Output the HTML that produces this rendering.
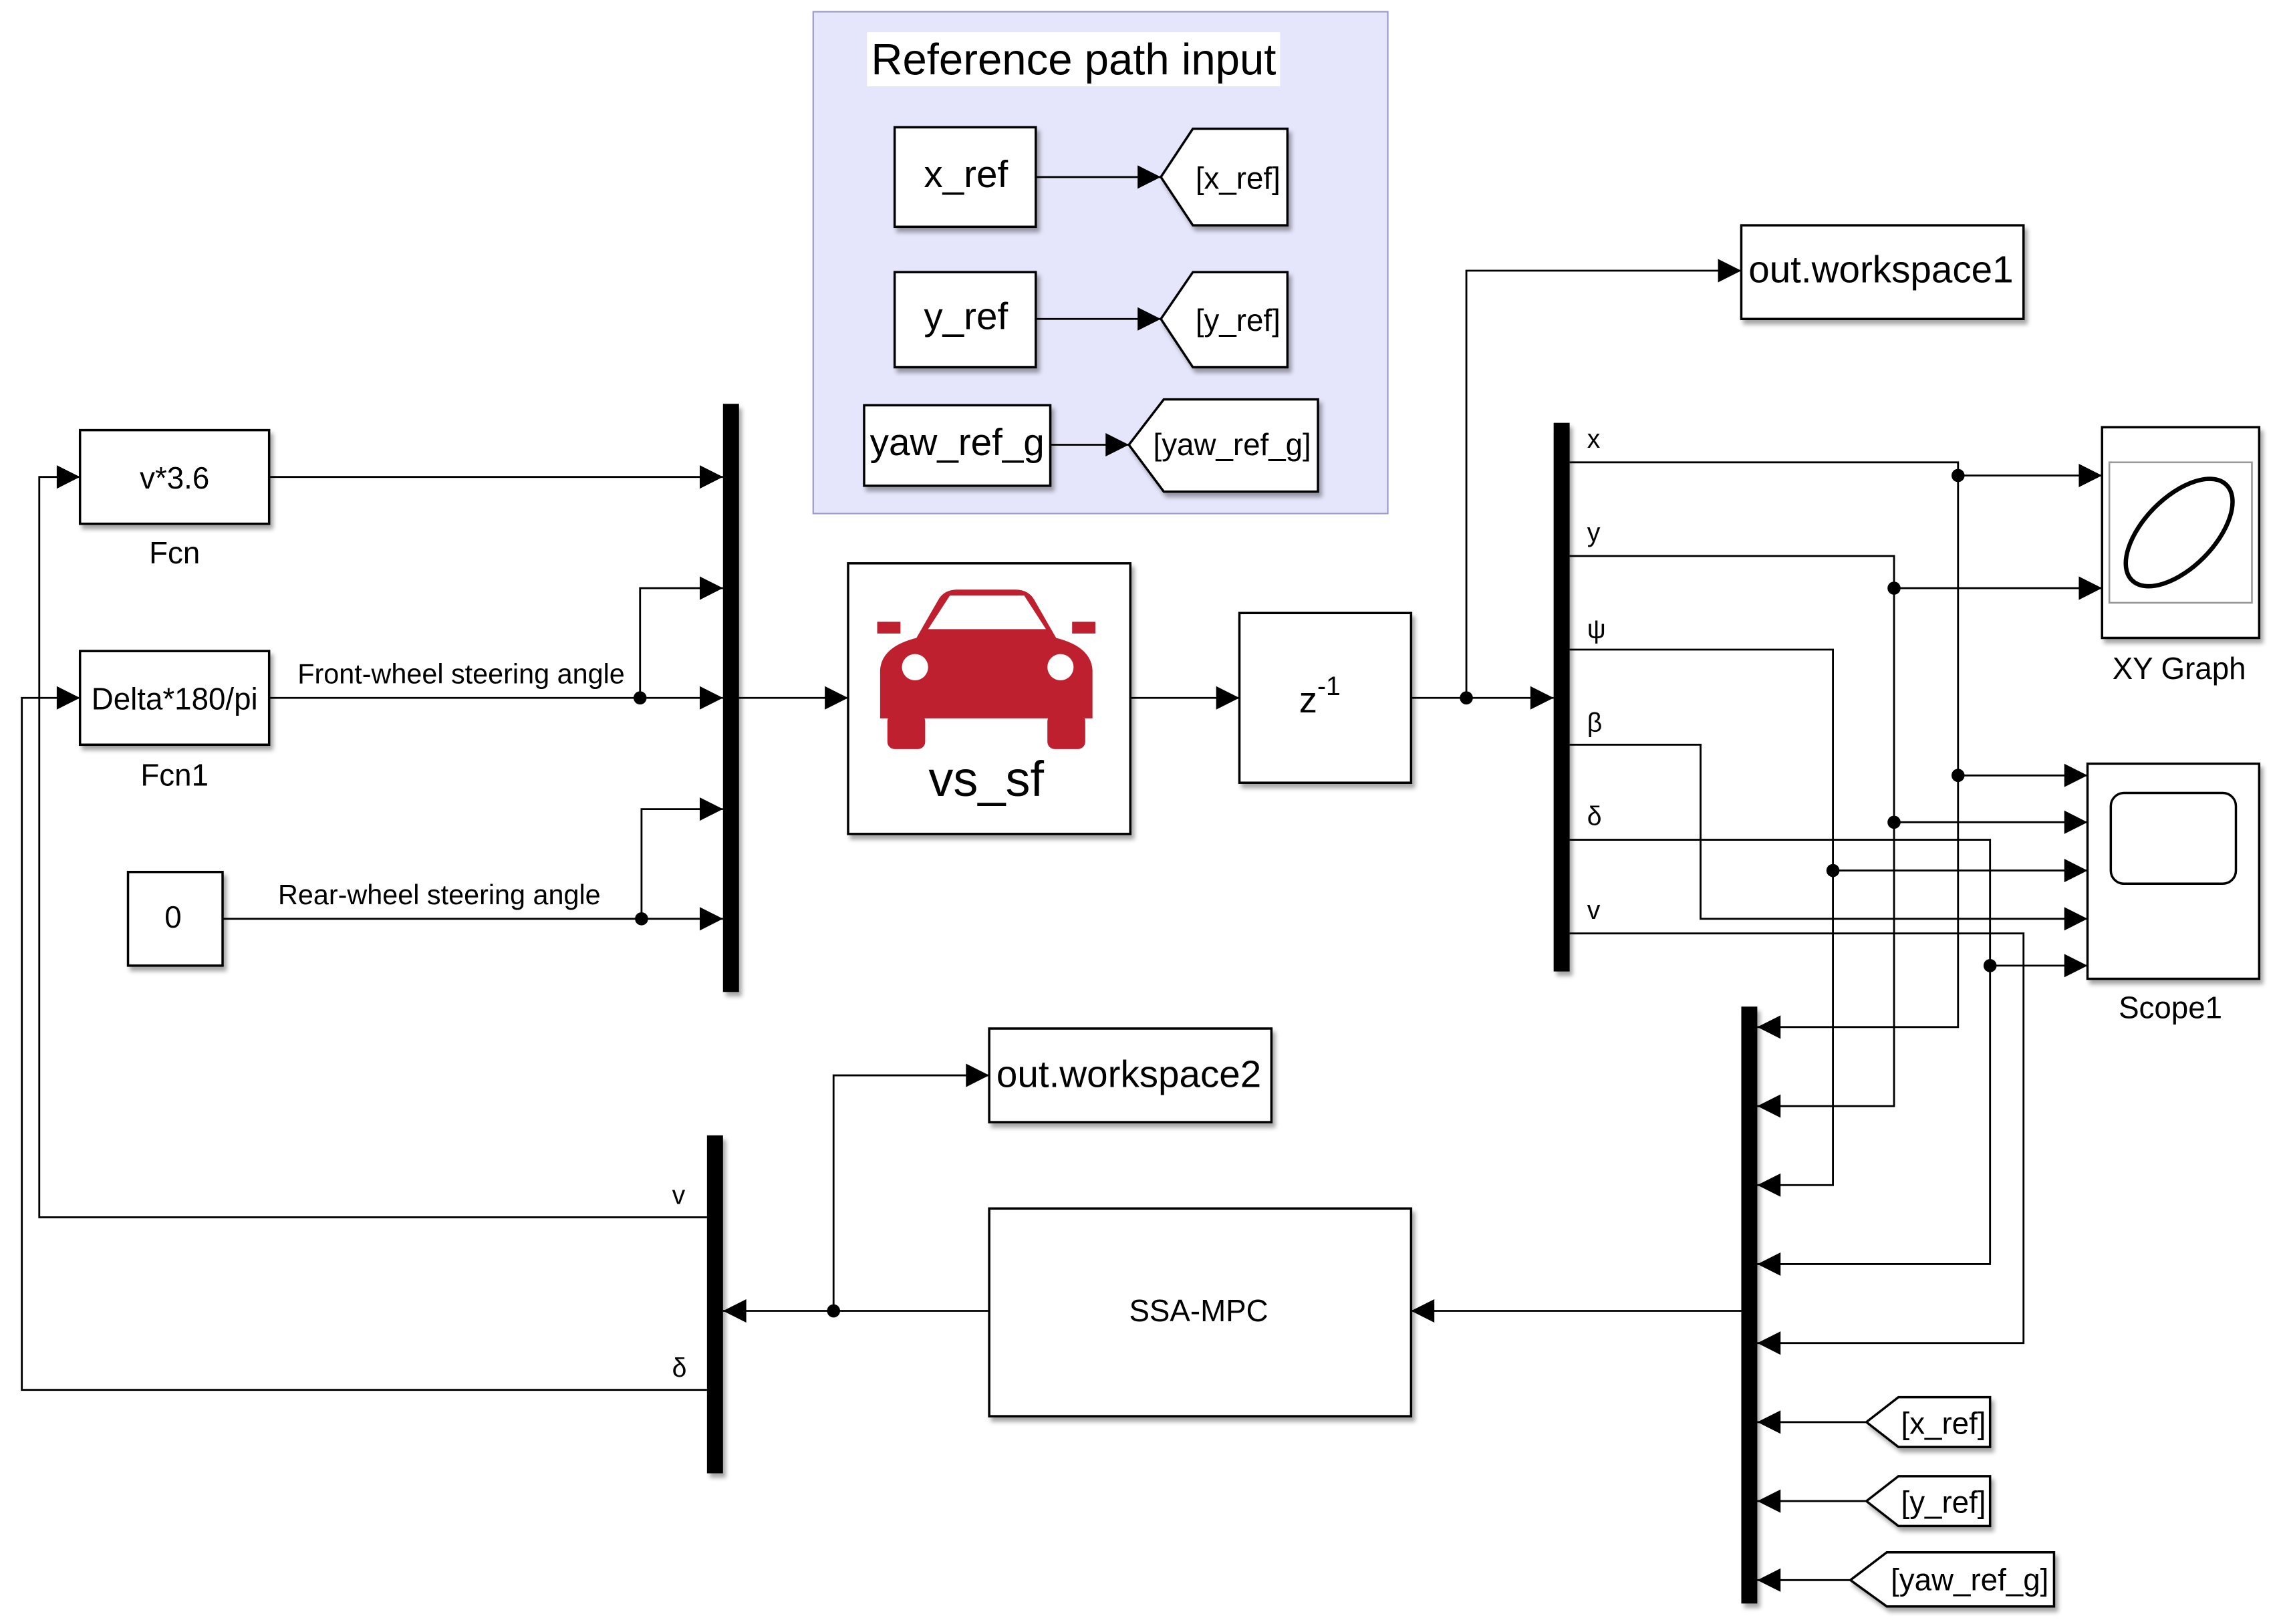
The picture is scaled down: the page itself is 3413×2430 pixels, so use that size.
<!DOCTYPE html>
<html><head><meta charset="utf-8"><style>
html,body{margin:0;padding:0;background:#fff;}
svg{display:block;}
text{font-family:"Liberation Sans",sans-serif;fill:#000;}
</style></head><body>
<svg width="3413" height="2430" viewBox="0 0 1568 1110" preserveAspectRatio="none" xmlns="http://www.w3.org/2000/svg">
<defs>
<filter id="sh" x="-10%" y="-10%" width="130%" height="130%"><feDropShadow dx="2" dy="3" stdDeviation="1.5" flood-color="#000" flood-opacity="0.35"/></filter>
</defs>
<rect width="1568" height="1110" fill="#fff"/>
<g transform="translate(0,-2)">
<rect x="559" y="10" width="395" height="343" fill="#e5e5fb" stroke="#9a9ac4" stroke-width="1"/>
<rect x="596" y="24" width="284" height="37" fill="#fff"/>
<text x="738" y="53" font-size="30" text-anchor="middle">Reference path input</text>
<g fill="#fff" stroke="#000" stroke-width="1.6" filter="url(#sh)">
<rect x="615" y="89" width="97" height="68"/>
<rect x="615" y="188" width="97" height="65"/>
<rect x="594" y="279" width="128" height="55"/>
<polygon points="798,123 820,90 885,90 885,156 820,156"/>
<polygon points="798,220 820,188 885,188 885,253 820,253"/>
<polygon points="776,306 800,275 906,275 906,338 800,338"/>
<rect x="55" y="296" width="130" height="64"/>
<rect x="55" y="447" width="130" height="64"/>
<rect x="88" y="598" width="65" height="64"/>
<rect x="583" y="387" width="194" height="185"/>
<rect x="852" y="421" width="118" height="116"/>
<rect x="1197" y="156" width="194" height="64"/>
<rect x="1445" y="294" width="108" height="144"/>
<rect x="1435" y="524" width="118" height="147"/>
<rect x="680" y="705" width="194" height="64"/>
<rect x="680" y="828" width="290" height="142"/>
<polygon points="1283,974 1305,957 1368,957 1368,991 1305,991"/>
<polygon points="1283,1028 1305,1011 1368,1011 1368,1045 1305,1045"/>
<polygon points="1272,1082 1297,1063 1412,1063 1412,1100 1297,1100"/>
</g>
<text x="664" y="130" font-size="26" text-anchor="middle">x_ref</text>
<text x="664" y="227" font-size="26" text-anchor="middle">y_ref</text>
<text x="658" y="313" font-size="26" text-anchor="middle">yaw_ref_g</text>
<text x="851" y="131" font-size="21" text-anchor="middle">[x_ref]</text>
<text x="851" y="228" font-size="21" text-anchor="middle">[y_ref]</text>
<text x="847" y="313" font-size="21" text-anchor="middle">[yaw_ref_g]</text>
<text x="1336" y="982" font-size="21" text-anchor="middle">[x_ref]</text>
<text x="1336" y="1036" font-size="21" text-anchor="middle">[y_ref]</text>
<text x="1354" y="1089" font-size="21" text-anchor="middle">[yaw_ref_g]</text>
<text x="120" y="336" font-size="21" text-anchor="middle">v*3.6</text>
<text x="120" y="387" font-size="21" text-anchor="middle">Fcn</text>
<text x="120" y="487" font-size="21" text-anchor="middle">Delta*180/pi</text>
<text x="120" y="539" font-size="21" text-anchor="middle">Fcn1</text>
<text x="119" y="636" font-size="21" text-anchor="middle">0</text>
<text x="317" y="469" font-size="19" text-anchor="middle">Front-wheel steering angle</text>
<text x="302" y="620" font-size="19" text-anchor="middle">Rear-wheel steering angle</text>
<text x="678" y="546" font-size="34" text-anchor="middle">vs_sf</text>
<text x="893" y="489" font-size="25">z<tspan font-size="18" dy="-12">-1</tspan></text>
<text x="1293" y="195" font-size="26" text-anchor="middle">out.workspace1</text>
<text x="776" y="745" font-size="26" text-anchor="middle">out.workspace2</text>
<text x="824" y="905" font-size="21" text-anchor="middle">SSA-MPC</text>
<text x="1498" y="466" font-size="21" text-anchor="middle">XY Graph</text>
<text x="1492" y="698" font-size="21" text-anchor="middle">Scope1</text>
<g font-size="18">
<text x="1091" y="308">x</text><text x="1091" y="372">y</text><text x="1091" y="438">ψ</text>
<text x="1091" y="502">β</text><text x="1091" y="566">δ</text><text x="1091" y="630">v</text>
<text x="462" y="825">v</text><text x="462" y="943">δ</text>
</g>
<g fill="#be2030">
<path d="M630,438 L645,412 Q649,405 658,405 L698,405 Q707,405 711,412 L726,438 Q750,444 751,460 L751,493 L605,493 L605,460 Q606,444 630,438 Z"/>
<rect x="603" y="427" width="16" height="8"/><rect x="737" y="427" width="16" height="8"/>
<rect x="610" y="490" width="26" height="24" rx="5"/><rect x="720" y="490" width="26" height="24" rx="5"/>
</g>
<polygon points="653,409 704,409 719,432 638,432" fill="#fff"/>
<circle cx="629" cy="458" r="9" fill="#fff"/><circle cx="729" cy="458" r="9" fill="#fff"/>
<rect x="1450" y="318" width="98" height="96" fill="none" stroke="#999" stroke-width="1.2"/>
<ellipse cx="1498" cy="366" rx="46" ry="24" transform="rotate(-45 1498 366)" fill="none" stroke="#000" stroke-width="3"/>
<rect x="1451" y="544" width="86" height="62" rx="9" fill="none" stroke="#000" stroke-width="1.6"/>
<g fill="#000" filter="url(#sh)">
<rect x="497" y="278" width="11" height="402"/>
<rect x="1068" y="291" width="11" height="375"/>
<rect x="1197" y="690" width="11" height="408"/>
<rect x="486" y="778" width="11" height="231"/>
</g>
<g fill="none" stroke="#000" stroke-width="1.3">
<path d="M712,123H798 M712,220H798 M722,306H776"/>
<path d="M185,328H497 M185,479H497 M440,479V404H497 M153,630H497 M441,630V555H497"/>
<path d="M508,479H583 M777,479H852 M970,479H1068 M1008,479V187H1197"/>
<path d="M1079,318H1346V704H1208 M1346,327H1445 M1346,532H1435"/>
<path d="M1079,382H1302V758H1208 M1302,404H1445 M1302,564H1435"/>
<path d="M1079,446H1260V812H1208 M1260,597H1435"/>
<path d="M1079,511H1169V630H1435"/>
<path d="M1079,576H1368V866H1208 M1368,662H1435"/>
<path d="M1079,640H1391V920H1208"/>
<path d="M1283,974H1208 M1283,1028H1208 M1272,1082H1208"/>
<path d="M1197,898H970 M680,898H497 M573,898V737H680"/>
<path d="M486,834H27V328H55 M486,952H15V479H55"/>
</g>
<g fill="#000">
<circle cx="440" cy="479" r="4.5"/><circle cx="441" cy="630" r="4.5"/><circle cx="1008" cy="479" r="4.5"/>
<circle cx="1346" cy="327" r="4.5"/><circle cx="1346" cy="532" r="4.5"/>
<circle cx="1302" cy="404" r="4.5"/><circle cx="1302" cy="564" r="4.5"/>
<circle cx="1260" cy="597" r="4.5"/><circle cx="1368" cy="662" r="4.5"/><circle cx="573" cy="898" r="4.5"/>
</g>
<g fill="#000">
<polygon points="798,123 782,115 782,131"/><polygon points="798,220 782,212 782,228"/><polygon points="776,306 760,298 760,314"/>
<polygon points="497,328 481,320 481,336"/><polygon points="497,404 481,396 481,412"/><polygon points="497,479 481,471 481,487"/>
<polygon points="497,555 481,547 481,563"/><polygon points="497,630 481,622 481,638"/>
<polygon points="583,479 567,471 567,487"/><polygon points="852,479 836,471 836,487"/><polygon points="1068,479 1052,471 1052,487"/>
<polygon points="1197,187 1181,179 1181,195"/>
<polygon points="1445,327 1429,319 1429,335"/><polygon points="1445,404 1429,396 1429,412"/>
<polygon points="1435,532 1419,524 1419,540"/><polygon points="1435,564 1419,556 1419,572"/><polygon points="1435,597 1419,589 1419,605"/>
<polygon points="1435,630 1419,622 1419,638"/><polygon points="1435,662 1419,654 1419,670"/>
<polygon points="680,737 664,729 664,745"/>
<polygon points="55,328 39,320 39,336"/><polygon points="55,479 39,471 39,487"/>
<polygon points="1208,704 1224,696 1224,712"/><polygon points="1208,758 1224,750 1224,766"/><polygon points="1208,812 1224,804 1224,820"/>
<polygon points="1208,866 1224,858 1224,874"/><polygon points="1208,920 1224,912 1224,928"/><polygon points="1208,974 1224,966 1224,982"/>
<polygon points="1208,1028 1224,1020 1224,1036"/><polygon points="1208,1082 1224,1074 1224,1090"/>
<polygon points="970,898 986,890 986,906"/><polygon points="497,898 513,890 513,906"/>
</g>
</g>
</svg>
</body></html>
